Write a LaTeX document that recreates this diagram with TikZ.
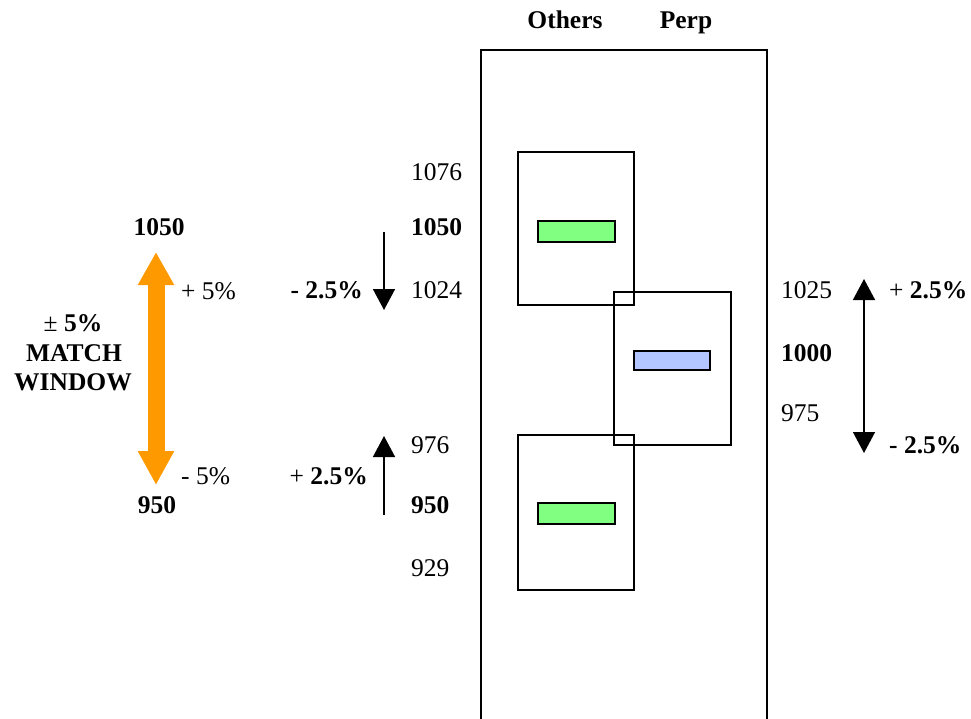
\documentclass[tikz,border=0pt]{standalone}
\usepackage{fontspec}
\setmainfont{Liberation Serif}
\usetikzlibrary{arrows.meta}
\definecolor{windoworange}{RGB}{255,153,0}
\definecolor{barGreen}{RGB}{128,255,128}
\definecolor{barBlue}{RGB}{179,198,255}
\begin{document}
\begin{tikzpicture}[x=1pt,y=-1pt,
  lbl/.style={font=\fontsize{25.5}{30}\selectfont, inner sep=0pt, text height=16.8pt, text depth=0pt},
  blbl/.style={lbl, font=\fontsize{25.5}{30}\selectfont\bfseries},
  boxline/.style={draw=black, line width=1.5pt},
  shiftarrow/.style={draw=black, line width=1.5pt, -{Triangle[width=22pt,length=21pt]}},
  windowarrow/.style={draw=windoworange, line width=17pt,
    {Triangle[width=34pt,length=34pt]}-{Triangle[width=34pt,length=33pt]}},
]
\useasboundingbox (0,0) rectangle (971,719);

% column headings
\node[blbl] (hOthers) at (565,20) {Others};
\node[blbl] (hPerp) at (686,20) {Perp};

% outer frame, open at the bottom
\draw[boxline] (481,719) -- (481,50) -- (767,50) -- (767,719);

% tolerance boxes with their bars
\draw[boxline] (518,152) rectangle (634,305);
\draw[boxline, fill=barGreen] (538,221) rectangle (615,242);
\draw[boxline] (614,292) rectangle (731,445);
\draw[boxline, fill=barBlue] (634,351) rectangle (710,370);
\draw[boxline] (518,435) rectangle (634,590);
\draw[boxline, fill=barGreen] (538,503) rectangle (615,524);

% values for the Others column
\node[lbl, anchor=west] (o1076) at (411,172) {1076};
\node[blbl, anchor=west] (o1050) at (411,227) {1050};
\node[lbl, anchor=west] (o1024) at (411,290) {1024};
\node[lbl, anchor=west] (o976) at (411,445) {976};
\node[blbl, anchor=west] (o950) at (411,505) {950};
\node[lbl, anchor=west] (o929) at (411,568) {929};

% values for the Perp column
\node[lbl, anchor=west] (p1025) at (781,290) {1025};
\node[blbl, anchor=west] (p1000) at (781,353) {1000};
\node[lbl, anchor=west] (p975) at (781,413) {975};

% shifts for the Others column
\coordinate (dTop) at (384,232);
\coordinate (dTip) at (384,310);
\draw[shiftarrow] (dTop) -- (dTip);
\node[blbl, anchor=east] (dLbl) at (363,290) {- 2.5\%};
\coordinate (uBot) at (384,515);
\coordinate (uTip) at (384,436);
\draw[shiftarrow] (uBot) -- (uTip);
\node[lbl, anchor=east] (uLbl) at (368,476) {+ \textbf{2.5\%}};

% shifts for the Perp column
\coordinate (pMid) at (864,366);
\coordinate (pTop) at (864,279);
\coordinate (pBot) at (864,453);
\draw[shiftarrow] (pMid) -- (pTop);
\draw[shiftarrow] (pMid) -- (pBot);
\node[lbl, anchor=west] (pPlus) at (889,290) {+ \textbf{2.5\%}};
\node[blbl, anchor=west] (pMinus) at (889,445) {- 2.5\%};

% match window
\node[blbl] (w1050) at (159,227) {1050};
\node[blbl] (w950) at (157,505) {950};
\coordinate (wTop) at (156,252);
\coordinate (wBot) at (156,485);
\draw[windowarrow] (wBot) -- (wTop);
\node[lbl, anchor=west] (wPlus) at (181,291) {+ 5\%};
\node[lbl, anchor=west] (wMinus) at (181,476) {- 5\%};
\node[lbl] (wPct) at (73,323) {± \textbf{5\%}};
\node[blbl] (wMatch) at (74,353) {MATCH};
\node[blbl] (wWindow) at (73,382) {WINDOW};
\end{tikzpicture}
\end{document}
